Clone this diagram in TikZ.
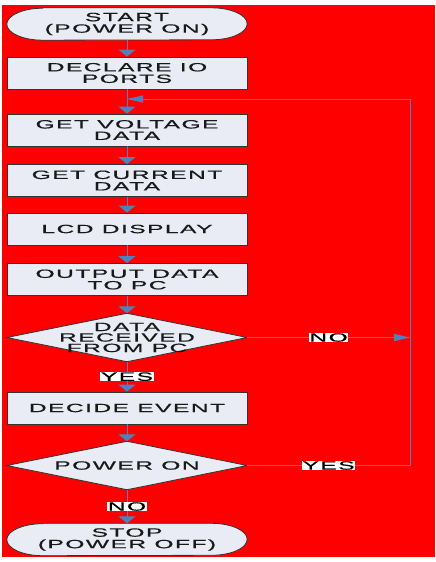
\documentclass[tikz,border=0pt]{standalone}
\usepackage{fontspec}
\newfontfamily\chartfont[FakeStretch=2.05,LetterSpace=12,FakeBold=0.6]{Liberation Sans}
\usetikzlibrary{arrows.meta,backgrounds}
\definecolor{boxfill}{RGB}{233,236,245}
\definecolor{flowblue}{RGB}{79,129,189}
\definecolor{sheet}{RGB}{255,0,0}
\tikzset{
  every node/.style={font=\chartfont\fontsize{12}{11.5}\selectfont,align=center,text=black!90},
  process/.style={rectangle,draw=black!80,fill=boxfill,line width=0.8pt,
    minimum width=240pt,minimum height=32pt,inner sep=0pt},
  terminal/.style={rectangle,minimum width=240pt,minimum height=32pt,inner sep=0pt},
  decision/.style={rectangle,minimum width=240pt,minimum height=48pt,inner sep=0pt},
  outline/.style={draw=black!80,fill=boxfill,line width=0.8pt},
  flow/.style={draw=flowblue,line width=0.9pt,-{Triangle[length=7pt,width=17pt]}},
  flowh/.style={draw=flowblue,line width=0.9pt,-{Triangle[length=16pt,width=7pt]}},
  answer/.style={fill=white,inner sep=0.5pt,text=black}
}
\begin{document}
\begin{tikzpicture}[x=1pt,y=-1pt]
  \useasboundingbox (0,0) rectangle (436,562);
  \begin{scope}[on background layer]
    \fill[white] (0,0) rectangle (436,562);
    \fill[sheet] (2,5) rectangle (435,557);
  \end{scope}

  % boxes down the middle
  \node[terminal] (start) at (127,24) {START\\(POWER ON)};
  \node[process] (ports) at (127,73) {DECLARE IO\\PORTS};
  \node[process] (volt) at (127,130) {GET VOLTAGE\\DATA};
  \node[process] (amps) at (127,180.5) {GET CURRENT\\DATA};
  \node[process] (lcd) at (127,229) {LCD DISPLAY};
  \node[process] (topc) at (127,279.5) {OUTPUT DATA\\TO PC};
  \node[decision,font=\chartfont\fontsize{12}{10.5}\selectfont] (recv) at (127,337.5) {DATA\\RECEIVED\\FROM PC};
  \node[process] (event) at (127,408) {DECIDE EVENT};
  \node[decision] (power) at (127,465.5) {POWER ON};
  \node[terminal] (stop) at (127,539.5) {STOP\\(POWER OFF)};

  \coordinate (rejoin) at (127,99);
  \coordinate (upper) at (410,99);
  \coordinate (lower) at (410,465.5);

  \begin{scope}[on background layer]
    \foreach \t in {start,stop}
      \draw[outline] ([xshift=36pt]\t.north west) -- ([xshift=-36pt]\t.north east)
        arc[start angle=90,end angle=-90,x radius=36pt,y radius=16pt]
        -- ([xshift=36pt]\t.south west)
        arc[start angle=270,end angle=90,x radius=36pt,y radius=16pt] -- cycle;
    \foreach \d in {recv,power}
      \draw[outline] (\d.north) -- (\d.east) -- (\d.south) -- (\d.west) -- cycle;
  \end{scope}

  \draw[flow] (start) -- (ports);
  \draw[flow] (ports) -- (volt);
  \draw[flow] (volt) -- (amps);
  \draw[flow] (amps) -- (lcd);
  \draw[flow] (lcd) -- (topc);
  \draw[flow] (topc) -- (recv);
  \draw[flow] (recv) -- node[answer] {YES} (event);
  \draw[flow] (event) -- (power);
  \draw[flow] (power) -- node[answer] {NO} (stop);
  \draw[flowh] (recv) -- node[answer] {NO} (recv -| upper);
  \draw[flowh] (power) -- node[answer] {YES} (lower) -- (upper) -- (rejoin);
\end{tikzpicture}
\end{document}
